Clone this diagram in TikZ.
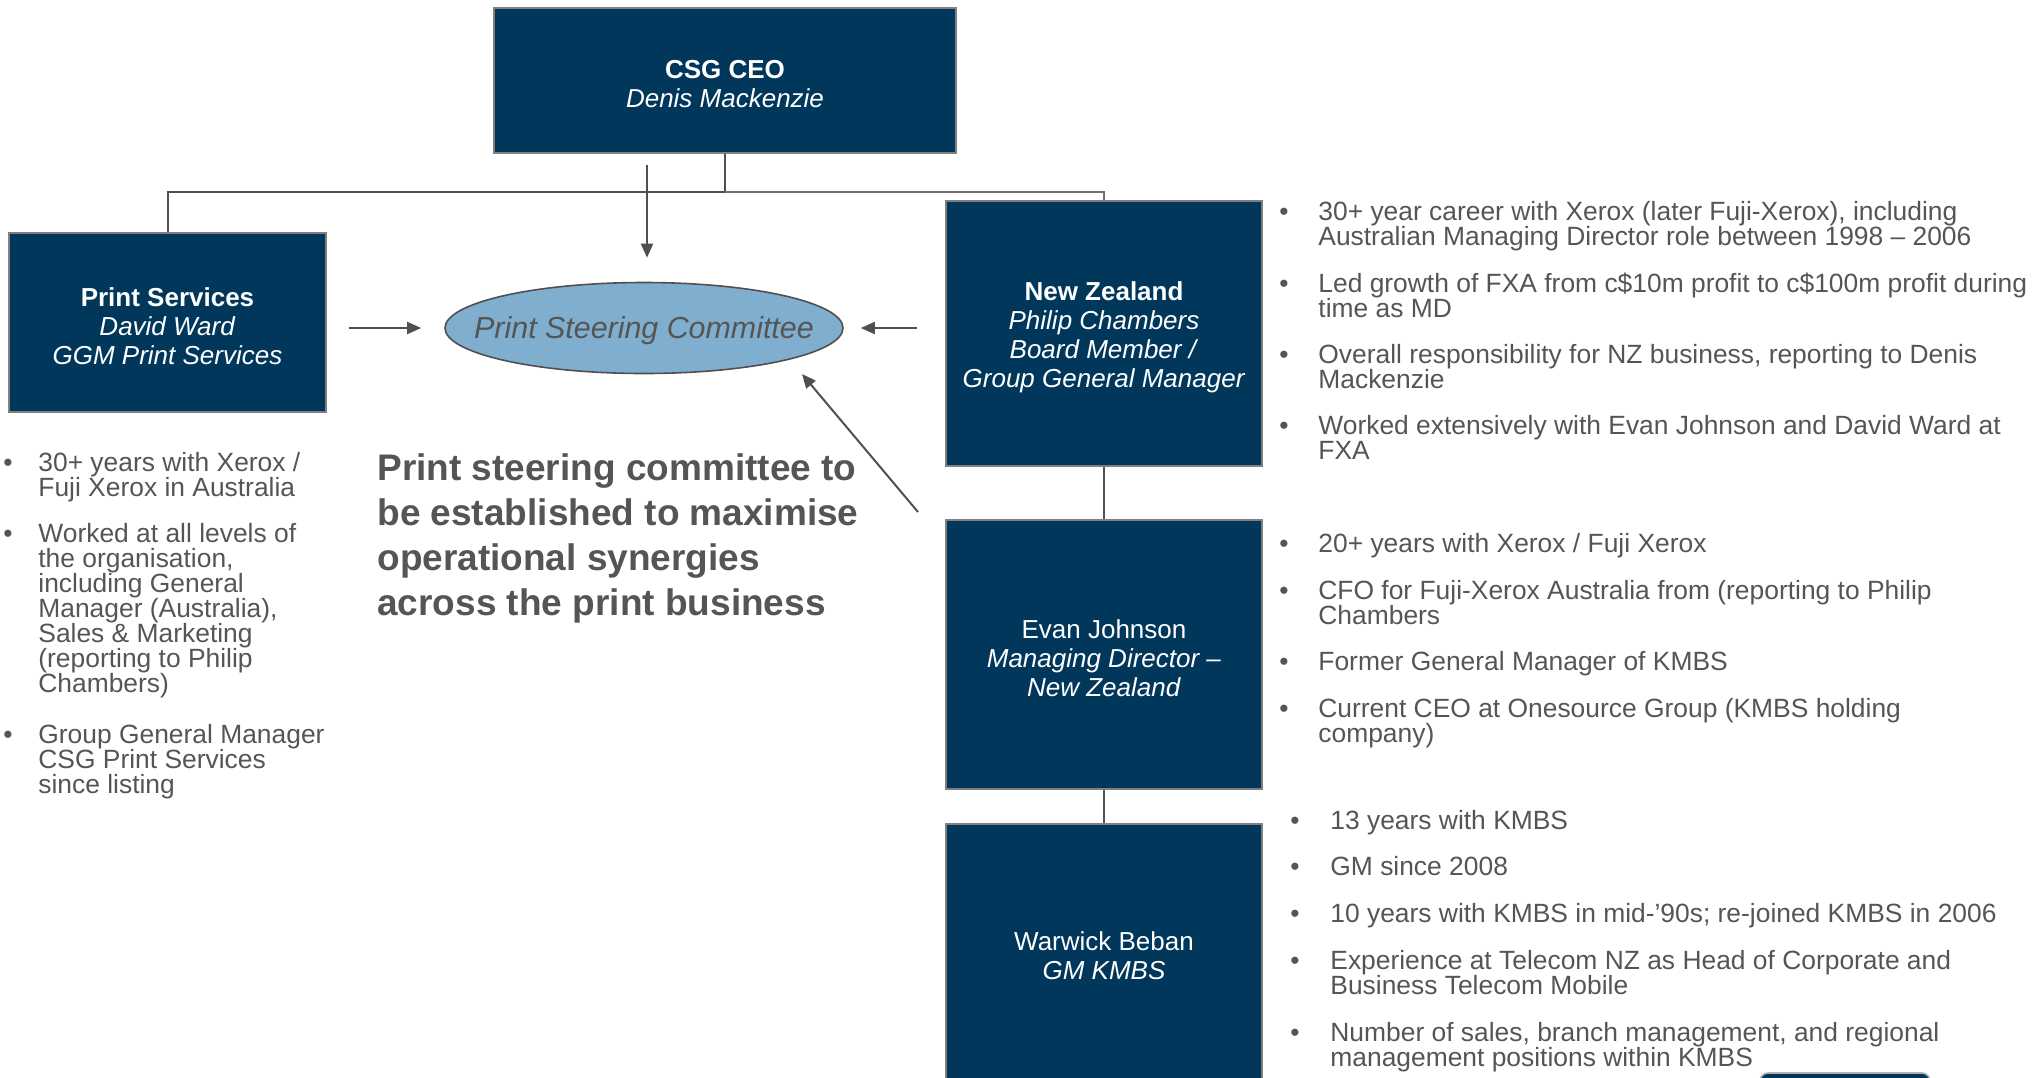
\documentclass[tikz,border=0pt]{standalone}
\usepackage{fontspec}
\setmainfont{Liberation Sans}
\usetikzlibrary{shapes.geometric,arrows.meta}
\definecolor{navy}{HTML}{00375B}
\definecolor{boxline}{HTML}{7F7F7F}
\definecolor{conn}{HTML}{505050}
\definecolor{conn2}{HTML}{707070}
\definecolor{txtgray}{HTML}{555555}
\definecolor{ellfill}{HTML}{80AECE}
\tikzset{
  orgbox/.style={draw=boxline, line width=0.8pt, fill=navy, text=white, align=center,
    inner sep=0pt, font=\fontsize{13pt}{14.5pt}\selectfont},
  steer/.style={ellipse, draw=conn, line width=0.8pt, fill=ellfill, inner sep=0pt,
    minimum width=199pt, minimum height=45.5pt, text=txtgray,
    font=\fontsize{15.2pt}{17pt}\selectfont\itshape},
  conline/.style={draw=conn, line width=1pt},
  arr/.style={conline, -{Triangle[length=7pt,width=6pt]}},
  bultxt/.style={text=txtgray, inner sep=0pt, align=left,
    font=\fontsize{13.2pt}{12.5pt}\selectfont},
  headline/.style={text=txtgray, inner sep=0pt, align=left,
    font=\fontsize{18.5pt}{22.35pt}\selectfont\bfseries},
}
\newcommand\tstrut{\rule{0pt}{13pt}}
% name, bullet x, text x, first baseline y, number of lines, text
\newcommand\bulitem[6]{%
  \node[bultxt, anchor=base] (#1b) at (#2,#4) {\textbullet};
  \node[bultxt, anchor=base west] (#1) at ({#3},{#4+(#5-1)*25}) {#6};}
\begin{document}
\begin{tikzpicture}[x=0.5pt, y=-0.5pt]
\useasboundingbox (0,0) rectangle (2034,1077);

% boxes
\node[orgbox, minimum width=231pt, minimum height=72.5pt] (ceo) at (725,80.5)
  {\tstrut\textbf{CSG CEO}\\\textit{Denis Mackenzie}};
\node[orgbox, minimum width=158.5pt, minimum height=89.5pt] (ps) at (167.5,322.5)
  {\tstrut\textbf{Print Services}\\\textit{David Ward}\\\textit{GGM Print Services}};
\node[orgbox, minimum width=158pt, minimum height=132.5pt] (nz) at (1104,333.5)
  {\tstrut\textbf{New Zealand}\\\textit{Philip Chambers}\\\textit{Board Member /}\\\textit{Group General Manager}};
\node[orgbox, minimum width=158pt, minimum height=134.5pt] (ev) at (1104,654.5)
  {\tstrut Evan Johnson\\\textit{Managing Director --}\\\textit{New Zealand}};
\node[orgbox, minimum width=158pt, minimum height=128pt] (wb) at (1104,952)
  {\tstrut Warwick Beban\\\textit{GM KMBS}};

\node[steer] (psc) at (644,328) {\raisebox{-5.4pt}[0pt][0pt]{\makebox[0pt]{Print Steering Committee}}};

% partial shape at bottom edge
\path[draw=boxline!60, line width=0.8pt, fill=navy, rounded corners=4pt] (1760,1073) rectangle (1930,1110);

% connectors
\coordinate (j) at (725,192);
\draw[conline] (ceo.south) -- (j);
\draw[conline] (ps.north) |- (j);
\draw[draw=conn2, line width=1pt] (j) -| (nz.north);
\draw[conline] (nz.south) -- (ev.north);
\draw[conline] (ev.south) -- (wb.north);

\coordinate (vs) at (647,165);
\draw[arr, shorten >=12pt] (vs) -- (vs |- psc.north);
\draw[arr, shorten <=11pt, shorten >=11.5pt] (ps.east |- psc) -- (psc.west);
\draw[arr, shorten <=14pt, shorten >=8.5pt] (nz.west |- psc) -- (psc.east);
\coordinate (ds) at (918,512);
\coordinate (de) at (802,374);
\draw[arr] (ds) -- (de);

% headline (base anchor = last line)
\node[headline, anchor=base west] (head) at (377,615)
  {Print steering committee to\\be established to maximise\\operational synergies\\across the print business};

% left bullets
\bulitem{l1}{8}{38}{471}{2}{30+ years with Xerox /\\Fuji Xerox in Australia}
\bulitem{l2}{8}{38}{542}{7}{Worked at all levels of\\the organisation,\\including General\\Manager (Australia),\\Sales \& Marketing\\(reporting to Philip\\Chambers)}
\bulitem{l3}{8}{38}{743}{3}{Group General Manager\\CSG Print Services\\since listing}

% NZ bullets
\bulitem{n1}{1284}{1318}{220}{2}{30+ year career with Xerox (later Fuji-Xerox), including\\Australian Managing Director role between 1998 -- 2006}
\bulitem{n2}{1284}{1318}{292}{2}{Led growth of FXA from c\$10m profit to c\$100m profit during\\time as MD}
\bulitem{n3}{1284}{1318}{363}{2}{Overall responsibility for NZ business, reporting to Denis\\Mackenzie}
\bulitem{n4}{1284}{1318}{434.5}{2}{Worked extensively with Evan Johnson and David Ward at\\FXA}

% Evan bullets
\bulitem{e1}{1284}{1318}{552.5}{1}{20+ years with Xerox / Fuji Xerox}
\bulitem{e2}{1284}{1318}{599}{2}{CFO for Fuji-Xerox Australia from (reporting to Philip\\Chambers}
\bulitem{e3}{1284}{1318}{670.5}{1}{Former General Manager of KMBS}
\bulitem{e4}{1284}{1318}{717}{2}{Current CEO at Onesource Group (KMBS holding\\company)}

% Warwick bullets
\bulitem{w1}{1295}{1330}{829}{1}{13 years with KMBS}
\bulitem{w2}{1295}{1330}{875.5}{1}{GM since 2008}
\bulitem{w3}{1295}{1330}{922}{1}{10 years with KMBS in mid-’90s; re-joined KMBS in 2006}
\bulitem{w4}{1295}{1330}{969}{2}{Experience at Telecom NZ as Head of Corporate and\\Business Telecom Mobile}
\bulitem{w5}{1295}{1330}{1041.5}{2}{Number of sales, branch management, and regional\\management positions within KMBS}
\end{tikzpicture}
\end{document}
